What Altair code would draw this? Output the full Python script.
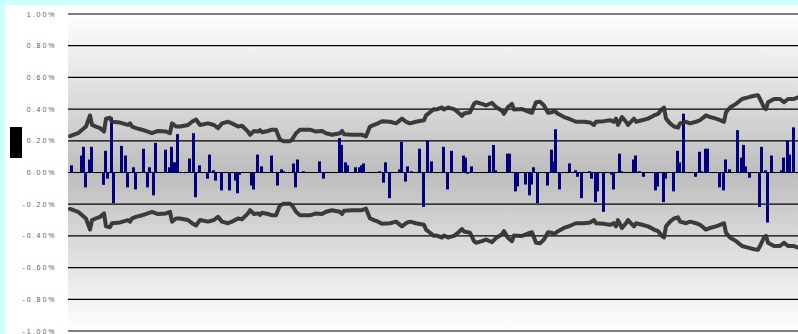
import altair as alt
import pandas as pd

# Daily returns (in %), indexed by trading day
bar_day = [
    1, 6, 7, 8, 10, 11, 17, 18, 19, 21, 22, 26, 28, 29, 32, 33, 37, 39, 40, 42,
    43, 48, 50, 51, 52, 53, 54, 60,
    62, 63, 65, 69, 70, 72, 73, 76, 80, 83, 84, 85, 91, 92, 94, 96, 101, 104, 106, 107,
    112, 113, 114, 117,
    125, 127, 135, 136, 138, 139, 143, 145, 146, 147, 155, 157, 158, 160, 165, 166, 168, 169,
    171, 175, 177, 179, 181,
    187, 189, 191, 197, 198, 199, 201, 210, 212, 213, 219, 220, 223, 224, 228, 230, 231, 232,
    234, 239, 241, 242, 243,
    245, 250, 253, 254, 256, 260, 261, 263, 264, 267, 271, 272, 275, 276, 282, 283, 285, 287,
    293, 294, 297, 298, 302, 304,
    305, 307, 313, 315, 316, 318, 319, 325, 327, 328, 330, 334, 336, 337, 338, 340, 345, 346,
    348, 349, 351, 356, 357, 359, 360, 362,
]
bar_ret = [
    0.045, 0.107, 0.162, -0.094, 0.082, 0.162, -0.078, 0.137, -0.039, 0.347, -0.193, 0.168, 0.107, -0.094, 0.033, -0.107, 0.150, -0.094, 0.033, -0.144,
    0.187, 0.144, 0.033, 0.162, 0.064, 0.064, 0.242, 0.088,
    0.248, -0.156, 0.045, -0.039, 0.113, 0.014, -0.051, -0.113, -0.113, -0.051, -0.131, -0.014, -0.082, -0.107, 0.113, 0.039, 0.107, -0.082, 0.020, 0.008,
    0.057, -0.094, 0.082, 0.008,
    0.070, -0.039, 0.217, 0.174, 0.064, 0.045, 0.033, 0.033, 0.045, 0.057, 0.008, -0.064, 0.064, -0.162, 0.020, 0.193, -0.057, 0.039,
    0.008, 0.150, -0.217, 0.203, 0.070,
    0.162, -0.107, 0.137, 0.107, 0.094, -0.008, 0.039, 0.107, 0.174, 0.014, 0.119, 0.119, -0.119, -0.088, -0.076, -0.144, -0.076, 0.033,
    -0.193, -0.082, 0.144, 0.070, 0.273,
    -0.107, 0.057, 0.014, -0.027, -0.162, 0.008, -0.039, -0.187, -0.119, -0.248, -0.014, -0.107, 0.119, 0.008, 0.082, 0.107, 0.008, -0.027,
    -0.113, -0.088, -0.187, -0.039, -0.119, 0.137,
    0.064, 0.371, -0.027, 0.131, 0.008, 0.150, 0.150, -0.094, -0.113, 0.082, 0.020, 0.267, 0.094, 0.174, 0.039, -0.033, -0.217, 0.162,
    0.014, -0.316, 0.107, 0.014, 0.094, 0.203, 0.113, 0.285,
]

# Volatility band (upper edge, in %); the lower edge mirrors it
band_day = [
    1, 5, 9, 11, 12, 14, 16, 18, 19, 21,
    22, 26, 30, 31, 32, 34, 37, 42, 45, 49,
    51, 52, 54, 56, 60, 62, 64, 66, 70, 73,
    75, 77, 80, 82, 85, 87, 90, 91, 93, 95,
    96, 97, 100, 102, 104, 106, 108, 111, 112, 114,
    116, 121, 124, 127, 129, 132, 136, 137, 138, 142,
    147, 149, 151, 153, 155, 157, 161, 164, 167, 169,
    171, 174, 178, 179, 181, 183, 184, 187, 188, 190,
    193, 195, 197, 198, 201, 203, 204, 207, 209, 212,
    214, 217, 218, 220, 222, 223, 227, 230, 232, 234,
    236, 238, 240, 242, 243, 245, 248, 251, 254, 258,
    261, 263, 264, 268, 271, 273, 274, 275, 277, 279,
    280, 283, 284, 287, 290, 293, 295, 297, 298, 299,
    301, 303, 305, 306, 309, 311, 314, 316, 319, 321,
    324, 326, 328, 329, 331, 334, 337, 340, 343, 345,
    346, 348, 349, 350, 353, 356, 358, 360, 363, 365,
]
band_val = [
    0.230, 0.248, 0.29, 0.36, 0.30, 0.29, 0.28, 0.258, 0.34, 0.345,
    0.32, 0.315, 0.30, 0.31, 0.29, 0.28, 0.27, 0.248, 0.262, 0.258,
    0.248, 0.31, 0.29, 0.29, 0.30, 0.32, 0.334, 0.30, 0.31, 0.30,
    0.28, 0.31, 0.32, 0.31, 0.29, 0.295, 0.258, 0.238, 0.262, 0.258,
    0.268, 0.254, 0.262, 0.27, 0.27, 0.207, 0.197, 0.197, 0.207, 0.248,
    0.27, 0.27, 0.258, 0.262, 0.248, 0.238, 0.248, 0.262, 0.242, 0.238,
    0.238, 0.228, 0.29, 0.30, 0.31, 0.324, 0.32, 0.31, 0.34, 0.32,
    0.31, 0.32, 0.33, 0.36, 0.38, 0.40, 0.397, 0.41, 0.397, 0.41,
    0.40, 0.38, 0.357, 0.372, 0.38, 0.433, 0.443, 0.433, 0.423, 0.44,
    0.413, 0.39, 0.37, 0.413, 0.433, 0.397, 0.40, 0.385, 0.377, 0.443,
    0.447, 0.423, 0.377, 0.38, 0.39, 0.37, 0.35, 0.336, 0.32, 0.32,
    0.316, 0.30, 0.32, 0.324, 0.33, 0.32, 0.34, 0.30, 0.35, 0.32,
    0.30, 0.34, 0.32, 0.33, 0.34, 0.36, 0.37, 0.40, 0.41, 0.34,
    0.31, 0.29, 0.283, 0.31, 0.32, 0.31, 0.32, 0.33, 0.36, 0.35,
    0.34, 0.33, 0.32, 0.38, 0.41, 0.433, 0.464, 0.474, 0.484, 0.488,
    0.464, 0.41, 0.40, 0.443, 0.464, 0.464, 0.443, 0.464, 0.464, 0.474,
]

y_ticks = [-1.0, -0.8, -0.6, -0.4, -0.2, 0.0, 0.2, 0.4, 0.6, 0.8, 1.0]
x_ticks = [0, 12, 24, 36, 48, 61, 73, 85, 97, 109, 121, 133, 145, 157, 169, 182,
           194, 206, 218, 230, 242, 254, 266, 278, 290, 303, 315, 327, 339, 351, 363]

W, H = 730, 317

bars_df = pd.DataFrame({"day": bar_day, "ret": bar_ret})
bars_df["day_end"] = bars_df["day"] + 1.5
bars_df["base"] = 0.0

band_df = pd.concat([
    pd.DataFrame({"day": band_day, "val": band_val, "side": "upper"}),
    pd.DataFrame({"day": band_day, "val": [-v for v in band_val], "side": "lower"}),
])

grid_df = pd.DataFrame({"v": y_ticks})
one = pd.DataFrame({"k": [0]})

xs = alt.Scale(domain=[0, 365], nice=False, zero=False)
ys = alt.Scale(domain=[-1, 1], nice=False)

# Plot-area shading: light at the edges, grey through the middle
shade = alt.Chart(one).mark_rect(
    color=alt.LinearGradient(
        gradient="linear",
        stops=[
            alt.GradientStop(offset=0, color="#ffffff"),
            alt.GradientStop(offset=0.5, color="#bdbdbd"),
            alt.GradientStop(offset=1, color="#ffffff"),
        ],
        x1=0, x2=0, y1=0, y2=1,
    )
).encode(x=alt.value(0), x2=alt.value(W), y=alt.value(0), y2=alt.value(H))

label_expr = (
    "join(split((datum.value < 0 ? '-' : '') + format(abs(datum.value), '.2f') + '%', ''), ' ')"
)

y_axis = alt.Axis(
    values=y_ticks, labelExpr=label_expr, labelFont="Liberation Sans",
    labelFontSize=7, labelColor="#5a5a5a", labelPadding=14, ticks=False,
    domain=False, grid=False, title=None,
)
x_axis = alt.Axis(
    values=x_ticks, labels=False, domain=False, grid=False, title=None,
    ticks=True, tickSize=3, tickColor="#444444", tickWidth=1, offset=-H / 2,
)

grid = alt.Chart(grid_df).mark_rule(color="#000000", strokeWidth=1.2).encode(
    y=alt.Y("v:Q", scale=ys, axis=y_axis)
)

bars = alt.Chart(bars_df).mark_bar(color="#000080").encode(
    x=alt.X("day:Q", scale=xs, axis=x_axis),
    x2="day_end:Q",
    y=alt.Y("ret:Q", scale=ys, axis=y_axis),
    y2="base:Q",
)

bands = alt.Chart(band_df).mark_line(
    color="#333333", strokeWidth=4, strokeJoin="round", strokeCap="round", opacity=0.95
).encode(
    x=alt.X("day:Q", scale=xs, axis=x_axis),
    y=alt.Y("val:Q", scale=ys, axis=y_axis),
    detail="side:N",
)

# Frame and legend swatch
edge_left = alt.Chart(one).mark_rect(color="#ccffff").encode(
    x=alt.value(-68), x2=alt.value(-63), y=alt.value(-14), y2=alt.value(H + 3)
)
edge_top = alt.Chart(one).mark_rect(color="#ccffff").encode(
    x=alt.value(-68), x2=alt.value(W), y=alt.value(-14), y2=alt.value(-9)
)
swatch = alt.Chart(one).mark_rect(color="#000000").encode(
    x=alt.value(-58), x2=alt.value(-46), y=alt.value(113), y2=alt.value(144)
)

chart = alt.layer(shade, grid, bars, bands, edge_left, edge_top, swatch).properties(
    width=W,
    height=H,
    autosize=alt.AutoSizeParams(type="none"),
    padding={"left": 68, "top": 14, "right": 0, "bottom": 3},
    background="white",
).configure_view(stroke=None)

chart.save("out.html", embed_options={"renderer": "svg", "actions": False})
